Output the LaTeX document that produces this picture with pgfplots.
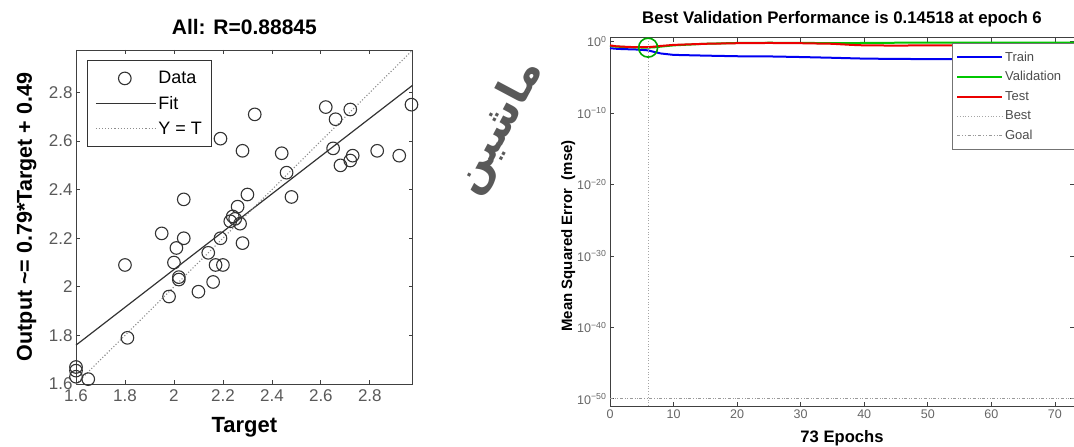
\documentclass[border=0pt]{standalone}
\usepackage{pgfplots}
\usepackage{pgfplotstable}
\pgfplotsset{compat=1.18}
\usepackage{fontspec}
\setmainfont{Liberation Sans}
\newfontfamily\arabicfont[Script=Arabic]{DejaVu Sans}
\TeXXeTstate=1
\definecolor{mtblue}{rgb}{0,0,0.95}
\definecolor{mtgreen}{rgb}{0,0.78,0}
\definecolor{mtred}{rgb}{0.92,0,0}
\pgfplotsset{
  longline legend/.style={legend image code/.code={\draw[##1] (0pt,0pt) -- (60pt,0pt);}},
  midline legend/.style={legend image code/.code={\draw[##1] (0pt,0pt) -- (45pt,0pt);}},
  markonly legend/.style={legend image code/.code={\draw[##1] plot coordinates {(29pt,0pt)};}},
}

\pgfplotstableread{
x y
2.19 2.61
2.33 2.71
2.62 2.74
2.66 2.69
2.72 2.73
2.97 2.75
2.28 2.56
2.44 2.55
2.65 2.57
2.83 2.56
2.92 2.54
2.73 2.54
2.72 2.52
2.68 2.50
2.46 2.47
2.48 2.37
2.30 2.38
2.04 2.36
2.26 2.33
2.24 2.29
2.23 2.27
2.27 2.26
2.25 2.28
2.28 2.18
1.95 2.22
2.04 2.20
2.19 2.20
2.01 2.16
2.14 2.14
2.00 2.10
2.17 2.09
2.20 2.09
1.80 2.09
2.02 2.04
2.02 2.03
2.16 2.02
2.10 1.98
1.98 1.96
1.81 1.79
1.60 1.67
1.60 1.655
1.60 1.63
1.65 1.62
}\scatterdata

\pgfplotstableread{
x y
0 0.12
1 0.10
2 0.09
3 0.085
4 0.08
5 0.07
6 0.06
7 0.035
8 0.022
10 0.014
15 0.011
20 0.009
25 0.0085
30 0.007
35 0.0055
40 0.0042
45 0.0038
50 0.0036
60 0.0034
73 0.0032
}\traindata

\pgfplotstableread{
x y
0 0.25
1 0.2
2 0.18
3 0.17
4 0.16
5 0.15
6 0.14518
7 0.16
8 0.2
10 0.3
15 0.5
20 0.65
25 0.7
30 0.68
35 0.6
40 0.65
45 0.7
50 0.72
60 0.75
73 0.75
}\valdata

\pgfplotstableread{
x y
0 0.3
1 0.22
2 0.2
3 0.18
4 0.17
5 0.17
6 0.17
7 0.2
8 0.25
10 0.35
15 0.5
20 0.6
25 0.65
30 0.6
35 0.5
38 0.35
40 0.3
45 0.28
50 0.3
60 0.33
73 0.35
}\testdata

\begin{document}
\begin{tikzpicture}
\useasboundingbox (0,0) rectangle (1074pt,447pt);

% ---------------- left: regression ----------------
\begin{axis}[
  at={(76pt,63pt)}, anchor=south west,
  scale only axis, width=336.7pt, height=334pt,
  xmin=1.6, xmax=2.975, ymin=1.6, ymax=2.975,
  clip=false,
  axis line style={black!75, line width=0.9pt},
  tick align=inside, major tick length=4pt,
  tick style={black!75, line width=0.8pt},
  xtick={1.6,1.8,2,2.2,2.4,2.6,2.8},
  ytick={1.6,1.8,2,2.2,2.4,2.6,2.8},
  xticklabels={1.6,1.8,2,2.2,2.4,2.6,2.8},
  yticklabels={1.6,1.8,2,2.2,2.4,2.6,2.8},
  ticklabel style={font=\fontsize{17}{17}\selectfont, text=black!65},
  xticklabel style={yshift=-2pt},
  title={\textbf{All: R=0.88845}},
  title style={font=\fontsize{21}{21}\selectfont, anchor=base, at={(axis description cs:0.5,1)}, yshift=9pt},
  xlabel={\textbf{Target}},
  xlabel style={font=\fontsize{22}{22}\selectfont, anchor=base, at={([yshift=-49pt]axis description cs:0.5,0)}},
  ylabel={\textbf{Output \textasciitilde= 0.79*Target + 0.49}},
  ylabel style={font=\fontsize{21.5}{21.5}\selectfont, anchor=base, rotate=0, at={([xshift=-44pt]axis description cs:0,0.5)}},
  legend style={at={(axis description cs:0.032,0.970)}, anchor=north west,
    font=\fontsize{18}{18}\selectfont, draw=black!80, line width=0.9pt,
    row sep=7pt, inner xsep=8pt, inner ysep=9pt},
  legend cell align=left,
]
\addplot[only marks, mark=o, mark size=6.3pt, black!80, line width=1.1pt, markonly legend]
  table[x=x,y=y]{\scatterdata};
\addlegendentry{Data}
\addplot[black!80, line width=1.2pt, longline legend]
  coordinates {(1.6,1.76) (2.975,2.83)};
\addlegendentry{Fit}
\addplot[black!45, dotted, line width=1.1pt, longline legend]
  coordinates {(1.6,1.6) (2.975,2.975)};
\addlegendentry{Y = T}
\end{axis}

% watermark
\node[rotate=62, text=black!65, font=\arabicfont\bfseries\fontsize{44}{44}\selectfont] at (499pt,320pt) {\beginR ماشین\endR};

% ---------------- right: performance ----------------
\begin{axis}[
  at={(610pt,41pt)}, anchor=south west,
  scale only axis, width=464pt, height=368.3pt,
  xmin=0, xmax=73, ymode=log, ymin=1e-51, ymax=3.55,
  clip=false,
  axis line style={black!75, line width=0.9pt},
  tick align=inside, major tick length=4pt,
  tick style={black!75, line width=0.8pt},
  xtick={0,10,20,30,40,50,60,70},
  xticklabels={0,10,20,30,40,50,60,70},
  ytick={1e-50,1e-40,1e-30,1e-20,1e-10,1},
  yticklabels={10\textsuperscript{−50},10\textsuperscript{−40},10\textsuperscript{−30},10\textsuperscript{−20},10\textsuperscript{−10},10\textsuperscript{0}},
  minor tick num=0,
  ticklabel style={font=\fontsize{12.5}{12.5}\selectfont, text=black!60},
  title={\textbf{Best Validation Performance is 0.14518 at epoch 6}},
  title style={font=\fontsize{16.8}{16.8}\selectfont, anchor=base, at={(axis description cs:0.5,1)}, yshift=8pt},
  xlabel={\textbf{73 Epochs}},
  xlabel style={font=\fontsize{16.6}{16.6}\selectfont, anchor=base, at={([yshift=-36pt]axis description cs:0.5,0)}},
  ylabel={\textbf{Mean Squared Error\ \ (mse)}},
  ylabel style={font=\fontsize{15}{15}\selectfont, anchor=base, rotate=0, at={([xshift=-38pt,yshift=-14pt]axis description cs:0,0.5)}},
  legend style={at={(axis description cs:0.7364,0.985)}, anchor=north west,
    font=\fontsize{13}{13}\selectfont, text=black!70, draw=black!55, line width=0.8pt,
    row sep=5pt, inner xsep=4pt, inner ysep=6pt},
  legend cell align=left,
  midline legend,
]
\addplot[mtblue, line width=2pt] table[x=x,y=y]{\traindata};
\addlegendentry{Train}
\addplot[mtgreen, line width=2pt] table[x=x,y=y]{\valdata};
\addlegendentry{\makebox[76pt][l]{Validation}}
\addplot[mtred, line width=2pt] table[x=x,y=y]{\testdata};
\addlegendentry{Test}
\addplot[black!35, dotted, line width=0.8pt] coordinates {(6,1e-51) (6,3.55)};
\addlegendentry{Best}
\addplot[black!40, dash dot dot, line width=0.8pt] coordinates {(0,1e-50) (73,1e-50)};
\addlegendentry{Goal}
\addplot[only marks, mark=o, mark size=9.5pt, mtgreen!85!black, line width=1.6pt, forget plot] coordinates {(6,0.14518)};
\end{axis}
\end{tikzpicture}
\end{document}
